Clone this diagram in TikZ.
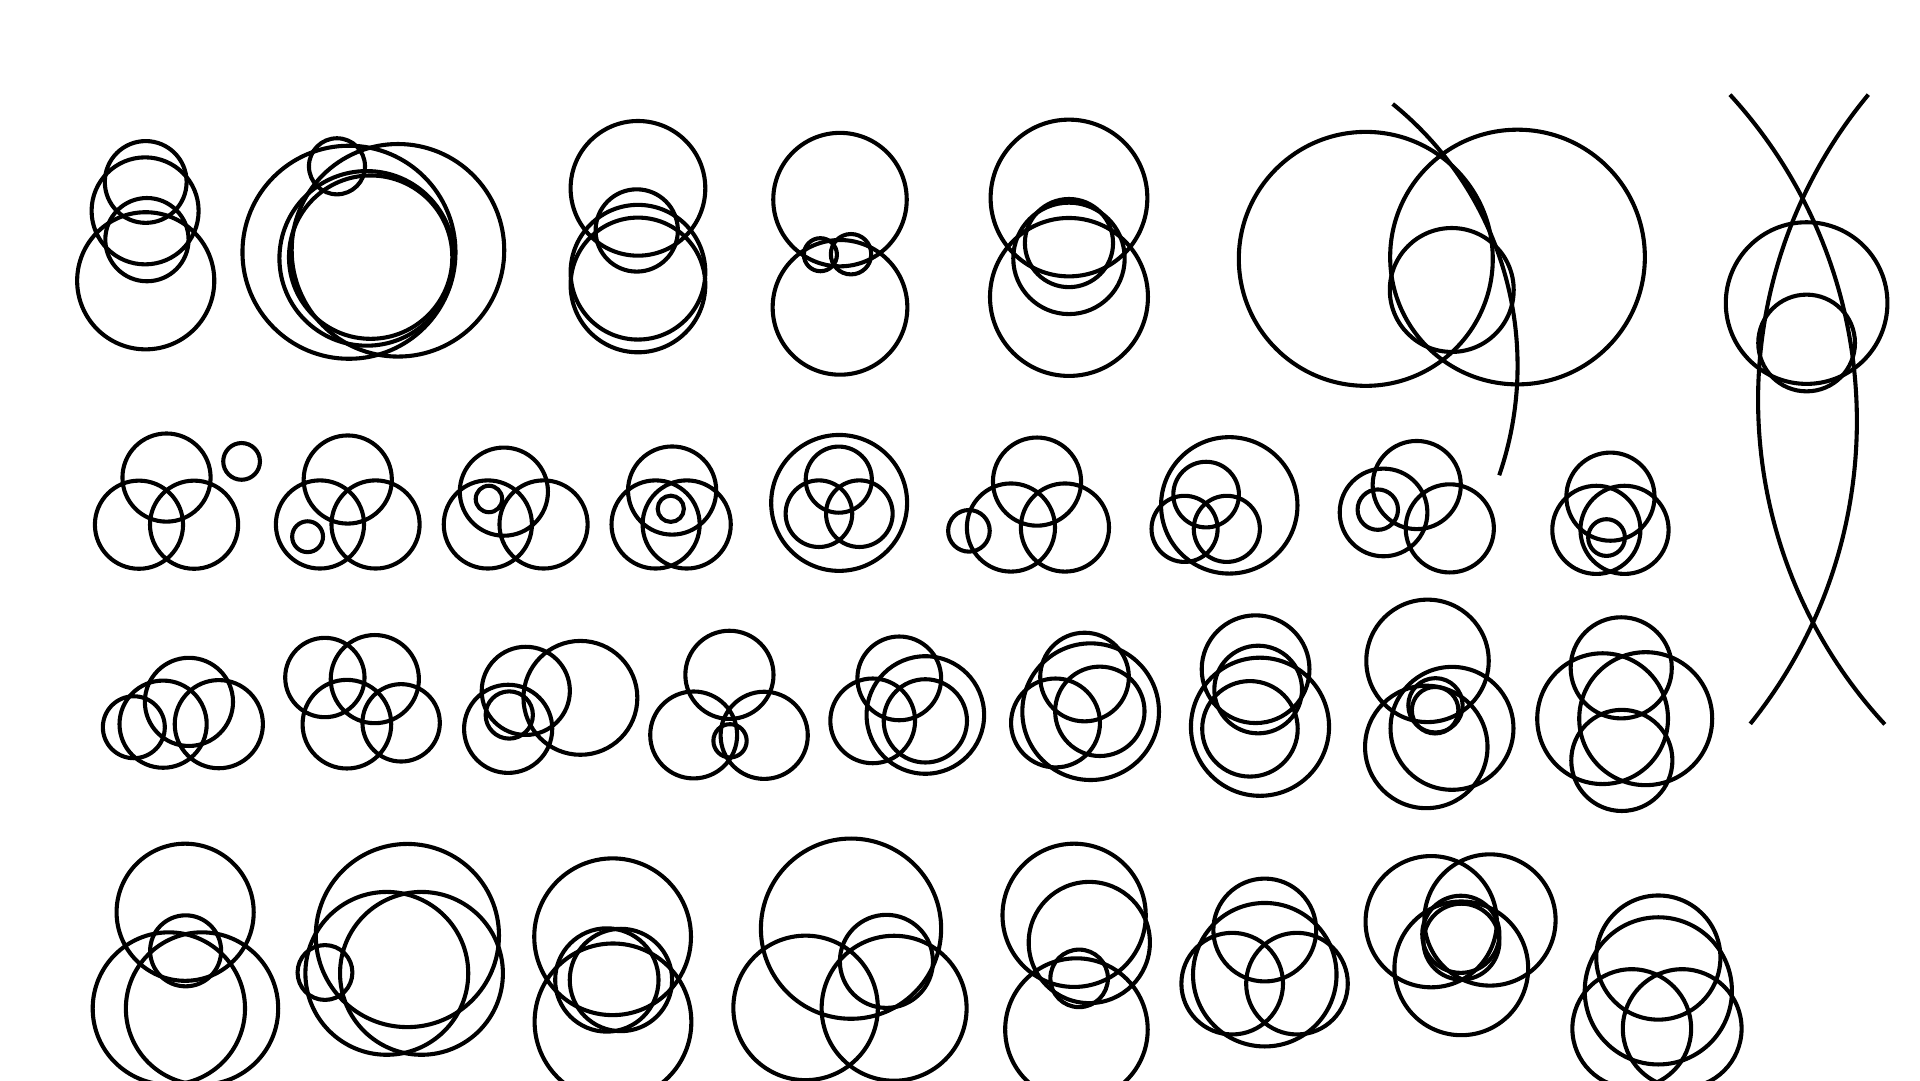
\documentclass[tikz,border=0pt]{standalone}
\usepackage{tikz}

\begin{document}
\begin{tikzpicture}[x=0.1mm, y=-0.1mm,
    ring/.style={draw=black, line width=0.95pt},
    sweep/.style={draw=black, line width=0.95pt, line cap=butt}]
  \clip (0,0) rectangle (1568,882);
  \fill[white] (0,0) rectangle (1568,882);
  % Row 1
  \begin{scope}
  \foreach \cx/\cy/\r in {119/148.6/33.4, 118.5/172.2/43.7, 120/195.7/34, 119/229.3/56,
      275.2/135.8/22.9, 285/206/87, 325/204.4/86.8, 299.5/211/71.3, 302.7/210/66.7,
      521/153.8/55, 520/188.2/33.6, 521/222.3/55, 521/232.7/55,
      686/163/54.5, 686/251/55, 670/208/13.5, 695/207.6/16.5,
      873/161.7/64, 873/242.5/64.5, 873/211/45.5, 873/198.5/36,
      1115.4/211.4/103.7, 1239.3/209.9/104, 1185.6/236.8/50.6,
      1475.4/247.5/66, 1475.4/280.1/39.5}
    \draw[ring] (\cx,\cy) circle[radius=\r];
  \draw[sweep] (1137.4,84.9) arc[start angle=-51, end angle=19, radius=275];
  \draw[sweep] (1525.8,77.3) arc[start angle=219.7, end angle=137.3, radius=390.5];
  \draw[sweep] (1412.8,77.3) arc[start angle=-42.5, end angle=38.8, radius=394.6];
  \end{scope}
  % Row 2
  \begin{scope}
  \foreach \cx/\cy/\r in {136/390/36, 113.5/428.5/36, 158.5/428.5/36, 197.3/376.8/15,
      284/391.6/36, 261.3/428.3/36, 306.7/428.3/36, 251.2/438.3/12.6,
      411.5/401.5/36, 398.4/428.3/36, 443.9/428.3/36, 399.3/407.5/10.8,
      548.9/400.6/36, 535.4/428.3/36, 560.8/428.3/36, 547.8/415.5/10.7,
      685.3/410.7/55.5, 685/391.7/27, 668.8/419.5/27.2, 701.8/419.5/27.2,
      846.9/393.3/36, 825.6/430.8/36, 869.7/430.8/36, 791.3/433.5/17,
      1003.9/412.7/55.7, 985/403.9/26.8, 967.4/431.9/27, 1001.9/431.9/27,
      1157/396.1/36, 1129.9/418.5/35.8, 1184/431.5/36, 1125.2/416.2/16.5,
      1315.2/405.6/36, 1303.7/432.7/36, 1326.7/432.7/36, 1312/439/15}
    \draw[ring] (\cx,\cy) circle[radius=\r];
  \end{scope}
  % Row 3
  \begin{scope}
  \foreach \cx/\cy/\r in {109.3/593.9/25.3, 133.2/591.4/35.6, 154.3/573.2/36, 178.7/591.4/36,
      265.3/553.3/32.4, 306.1/554.6/36, 283.3/591.4/36.2, 327.6/590.3/31.6,
      429.4/564.2/36, 474/569.9/46.5, 415/595.2/36, 415.9/583.9/19.3,
      595.7/551.1/36, 566.5/600.2/35.5, 624.1/600.5/35.6, 596.2/605/13.6,
      734.4/554/34.2, 712.7/588.7/34.6, 755.7/583.9/48, 755.7/588.7/34,
      885.7/552.9/36.2, 890.7/581.2/55.8, 862/590.4/36.3, 898.2/580.9/36.5,
      1025.4/546.5/44, 1027.5/563.1/35.8, 1029/593.5/56.4, 1020.8/595.2/39,
      1165.8/539.7/50, 1185.8/594.8/50.2, 1164.8/610/50, 1172.3/576/22.2, 1172/580/19,
      1324/545.4/41.3, 1308.8/586.9/53.4, 1344/586.9/54.3, 1324.5/621/41.3}
    \draw[ring] (\cx,\cy) circle[radius=\r];
  \end{scope}
  % Row 4
  \begin{scope}
  \foreach \cx/\cy/\r in {151.2/745/56, 151.6/776.5/29, 137.9/823.6/62.2, 165/823.6/62.2,
      332.7/764/74.8, 315.9/794.9/66.5, 344.2/794.9/66.5, 265.4/794.2/22.4,
      500.3/765/64, 500.6/834.5/64, 495.6/800.3/42.2, 507.1/800.3/41.8,
      695/758.4/73.6, 657.9/823.1/59, 730.2/823.4/59.2, 723.9/785.1/38,
      877.2/747.5/58.5, 889.6/769.7/49.5, 879.1/840.8/58.2, 881.3/799/23.5,
      1032.9/759.5/42, 1032.9/796/58.6, 1006.3/803.3/41.5, 1059.2/803.3/41.5,
      1168.8/752.7/53.6, 1216.8/751.3/53.6, 1193.4/790.8/54.6, 1193/763/31.5, 1193.5/769/31,
      1354.3/782/50.7, 1354.3/809.2/60.1, 1332.6/840/48.5, 1373.8/840/48.5}
    \draw[ring] (\cx,\cy) circle[radius=\r];
  \end{scope}
\end{tikzpicture}
\end{document}
